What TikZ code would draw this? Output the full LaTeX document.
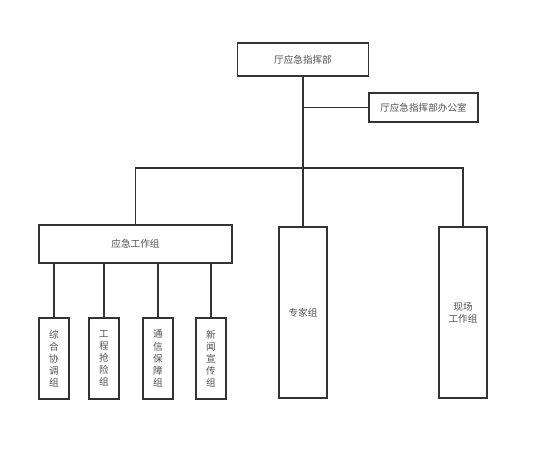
\documentclass[tikz,border=0pt]{standalone}
\usepackage{fontspec}
\newfontfamily\cjk{Noto Sans CJK SC}
\usetikzlibrary{positioning, calc}
\definecolor{orgline}{RGB}{51,51,51}
\definecolor{orgtext}{RGB}{80,80,80}

\begin{document}
\begin{tikzpicture}[x=0.03cm, y=-0.03cm,
  unit/.style={rectangle, draw=orgline, line width=0.9pt, align=center, inner sep=0pt, text=orgtext, font=\cjk\fontsize{8.2}{10.3}\selectfont},
  tall/.style={unit, minimum width=0.9cm, minimum height=2.43cm},
  side/.style={unit, minimum width=1.44cm, minimum height=5.13cm},
  link/.style={draw=orgline, line width=0.9pt}
]
\useasboundingbox (0,0) rectangle (534,459);
\node[unit, minimum width=3.93cm, minimum height=0.99cm] (hq) at (303,59.5) {厅应急指挥部};
\node[unit, minimum width=3.27cm, minimum height=0.87cm] (office) at (423.5,107.5) {厅应急指挥部办公室};
\node[unit, minimum width=5.79cm, minimum height=1.14cm] (work) at (135.5,244) {应急工作组};
\node[side] (expert) at (303,312.5) {专家组};
\node[side] (field) at (463,312.5) {现场\\工作组};
\node[tall] (g1) at (54,358.5) {综\\合\\协\\调\\组};
\node[tall] (g2) at (104,358.5) {工\\程\\抢\\险\\组};
\node[tall] (g3) at (158,358.5) {通\\信\\保\\障\\组};
\node[tall] (g4) at (211,358.5) {新\\闻\\宣\\传\\组};
\coordinate (bus) at (303,168);
\draw[link] (hq.south) -- (expert.north);
\draw[link] (office.west) -- (office.west -| hq.south);
\draw[link] (work.north) |- (bus) -| (field.north);
% sub groups
\foreach \g in {g1,g2,g3,g4}
  \draw[link] (work.south -| \g.north) -- (\g.north);
\end{tikzpicture}
\end{document}
